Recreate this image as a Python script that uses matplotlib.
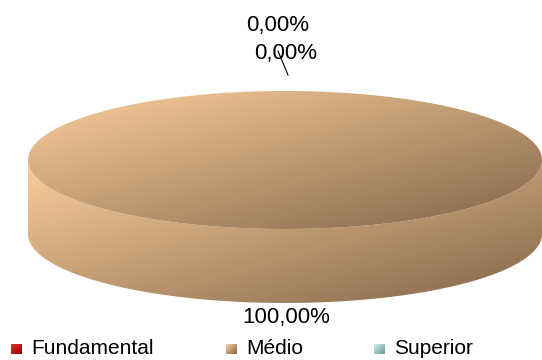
import matplotlib
matplotlib.use("Agg")
import matplotlib.pyplot as plt
from matplotlib.patches import Polygon
import numpy as np

categories = ["Fundamental", "Médio", "Superior"]
values = [0.0, 100.0, 0.0]

# light / dark ends of each slice's gradient
light = ["#F03030", "#FCCF9D", "#D0F0F0"]
dark = ["#8C0000", "#836549", "#6A9898"]

W, H = 542, 360
fig = plt.figure(figsize=(W / 100, H / 100), dpi=100)
ax = fig.add_axes([0, 0, 1, 1])
ax.set_xlim(0, W)
ax.set_ylim(H, 0)
ax.axis("off")

plt.rcParams["font.family"] = ["Liberation Sans", "DejaVu Sans"]

cx, cy, a, b, depth = 285, 160, 257, 69, 74

def ell(t, dy=0):
    return np.column_stack([cx + a * np.sin(t), cy - b * np.cos(t) + dy])

def hexrgb(h):
    return np.array([int(h[i:i + 2], 16) for i in (1, 3, 5)]) / 255.0

#fills a polygon with a diagonal gradient in its own bbox
def gradient_fill(pts, c0, c1, z):
    patch = Polygon(pts, closed=True, facecolor="none", edgecolor="none", zorder=z)
    ax.add_patch(patch)
    x0, x1 = pts[:, 0].min(), pts[:, 0].max()
    y0, y1 = pts[:, 1].min(), pts[:, 1].max()
    U, V = np.meshgrid(np.linspace(0, 1, 300), np.linspace(0, 1, 200))
    t = (U + V) / 2
    img = (1 - t)[..., None] * hexrgb(c0) + t[..., None] * hexrgb(c1)
    im = ax.imshow(img, extent=[x0, x1, y1, y0], origin="upper",
                   interpolation="bilinear", zorder=z)
    im.set_clip_path(patch)

total = sum(values)
start = 0.0
arcs = []
for v in values:
    span = 2 * np.pi * v / total
    arcs.append((start, start + span))
    start += span

# sides (front half only)
for i, (t0, t1) in enumerate(arcs):
    lo, hi = max(t0, np.pi / 2), min(t1, 3 * np.pi / 2)
    if hi <= lo:
        continue
    t = np.linspace(lo, hi, 300)
    pts = np.vstack([ell(t), ell(t[::-1], depth)])
    gradient_fill(pts, light[i], dark[i], 2)

# top faces
for i, (t0, t1) in enumerate(arcs):
    if t1 - t0 <= 0:
        continue
    t = np.linspace(t0, t1, 400)
    pts = ell(t)
    if t1 - t0 < 2 * np.pi - 1e-9:
        pts = np.vstack([[cx, cy], pts])
    gradient_fill(pts, light[i], dark[i], 3)

# data labels
def fmt(v):
    return f"{v:.2f}%".replace(".", ",")

label_pos = [(278, 26), (286, 317), (286, 54)]
for v, (lx, ly) in zip(values, label_pos):
    ax.text(lx, ly, fmt(v), fontsize=16, ha="center", va="center", color="#000000", zorder=5)
ax.plot([278, 288], [51, 75], color="#000000", lw=0.8, zorder=5)

# legend
sq_x = [11, 226, 374]
for i, name in enumerate(categories):
    x0 = sq_x[i]
    sq = np.array([[x0, 344], [x0 + 11, 344], [x0 + 11, 354], [x0, 354]], dtype=float)
    gradient_fill(sq, light[i], dark[i], 4)
    ax.text(x0 + 20, 349, name, fontsize=15, ha="left", va="center", color="#000000")

fig.savefig("out.png", dpi=100)
